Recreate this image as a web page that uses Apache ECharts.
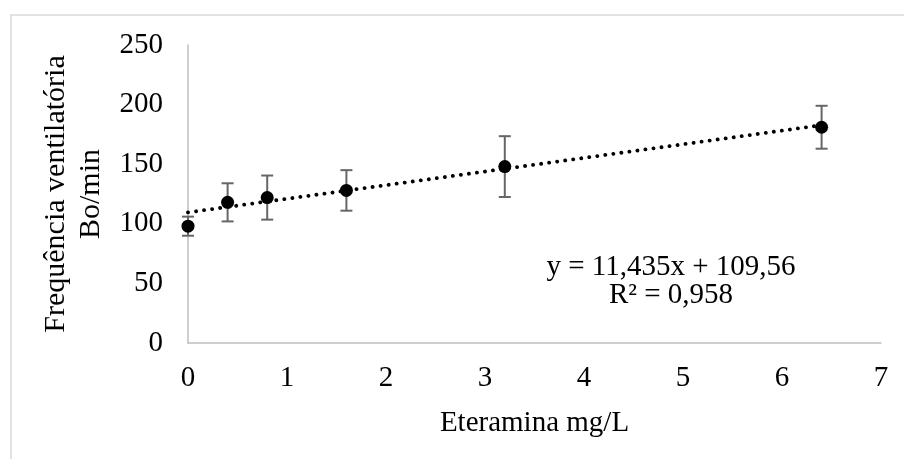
<!DOCTYPE html>
<html>
<head>
<meta charset="utf-8">
<script src="https://cdn.jsdelivr.net/npm/echarts@6/dist/echarts.min.js"></script>
<style>
  html, body { margin: 0; padding: 0; background: #fff; }
  #chart { width: 904px; height: 459px; }
</style>
</head>
<body>
<div id="chart"></div>
<script>
// concentrations (mg/L) and mean ventilatory frequency with its deviation
const doses = [0, 0.4, 0.8, 1.6, 3.2, 6.4];
const freq = [98, 118, 122, 128, 148, 181];
const errs = [8, 16, 18.5, 17, 25.5, 18];
// linear trendline from the fitted equation
const slope = 11.435;
const intercept = 109.56;
const trendX = [0, 6.4];
const xTicks = [0, 1, 2, 3, 4, 5, 6, 7];
const yTicks = [0, 50, 100, 150, 200, 250];

const font = 'Liberation Serif';
const fs = 29;
const chartDom = document.getElementById('chart');
const myChart = echarts.init(chartDom);

const points = doses.map((d, i) => [d, freq[i]]);
const bars = doses.map((d, i) => [d, freq[i] - errs[i], freq[i] + errs[i]]);
const trend = trendX.map(x => [x, slope * x + intercept]);

const option = {
    animation: false,
    backgroundColor: '#fff',
    grid: { left: 188, right: 23, top: 45, bottom: 116 },
    graphic: [
        {
            type: 'rect',
            shape: { x: 11, y: 15, width: 1000, height: 1000 },
            style: { fill: 'none', stroke: '#d9d9d9', lineWidth: 1.5 },
            silent: true
        },
        {
            type: 'text',
            x: 671, y: 281,
            style: {
                text: 'y = 11,435x + 109,56\nR² = 0,958',
                font: fs + 'px "' + font + '"',
                lineHeight: 28,
                fill: '#000',
                align: 'center',
                verticalAlign: 'middle'
            }
        }
    ],
    xAxis: {
        type: 'value',
        min: 0, max: 7, interval: 1,
        name: 'Eteramina mg/L',
        nameLocation: 'middle',
        nameGap: 66,
        nameTextStyle: { fontFamily: font, fontSize: fs, color: '#000' },
        axisLine: { lineStyle: { color: '#bfbfbf', width: 1.5 } },
        axisTick: { show: false },
        splitLine: { show: false },
        axisLabel: {
            fontFamily: font, fontSize: fs, color: '#000', margin: 21,
            formatter: v => xTicks.includes(v) ? String(v) : ''
        }
    },
    yAxis: {
        type: 'value',
        min: 0, max: 250, interval: 50,
        name: 'Frequência ventilatória\nBo/min',
        nameLocation: 'middle',
        nameRotate: 90,
        nameGap: 63,
        nameTextStyle: { fontFamily: font, fontSize: fs + 1, color: '#000', lineHeight: 35 },
        axisLine: { show: true, lineStyle: { color: '#bfbfbf', width: 1.5 } },
        axisTick: { show: false },
        splitLine: { show: false },
        axisLabel: {
            fontFamily: font, fontSize: fs, color: '#000', margin: 25,
            formatter: v => yTicks.includes(v) ? String(v) : ''
        }
    },
    series: [
        {
            type: 'line',
            data: trend,
            symbol: 'none',
            lineStyle: { color: '#000', width: 3.8, type: [0.1, 8], cap: 'round' },
            z: 2
        },
        {
            type: 'custom',
            data: bars,
            renderItem: (params, api) => {
                const x = api.value(0);
                const lo = api.coord([x, api.value(1)]);
                const hi = api.coord([x, api.value(2)]);
                const w = 6;
                const style = { stroke: '#666', lineWidth: 2 };
                return {
                    type: 'group',
                    children: [
                        { type: 'line', shape: { x1: lo[0], y1: lo[1], x2: hi[0], y2: hi[1] }, style },
                        { type: 'line', shape: { x1: lo[0] - w, y1: lo[1], x2: lo[0] + w, y2: lo[1] }, style },
                        { type: 'line', shape: { x1: hi[0] - w, y1: hi[1], x2: hi[0] + w, y2: hi[1] }, style }
                    ]
                };
            },
            z: 3
        },
        {
            type: 'scatter',
            data: points,
            symbol: 'circle',
            symbolSize: 13,
            itemStyle: { color: '#000', opacity: 1 },
            emphasis: { disabled: true },
            z: 4
        }
    ]
};
option && myChart.setOption(option);
</script>
</body>
</html>
